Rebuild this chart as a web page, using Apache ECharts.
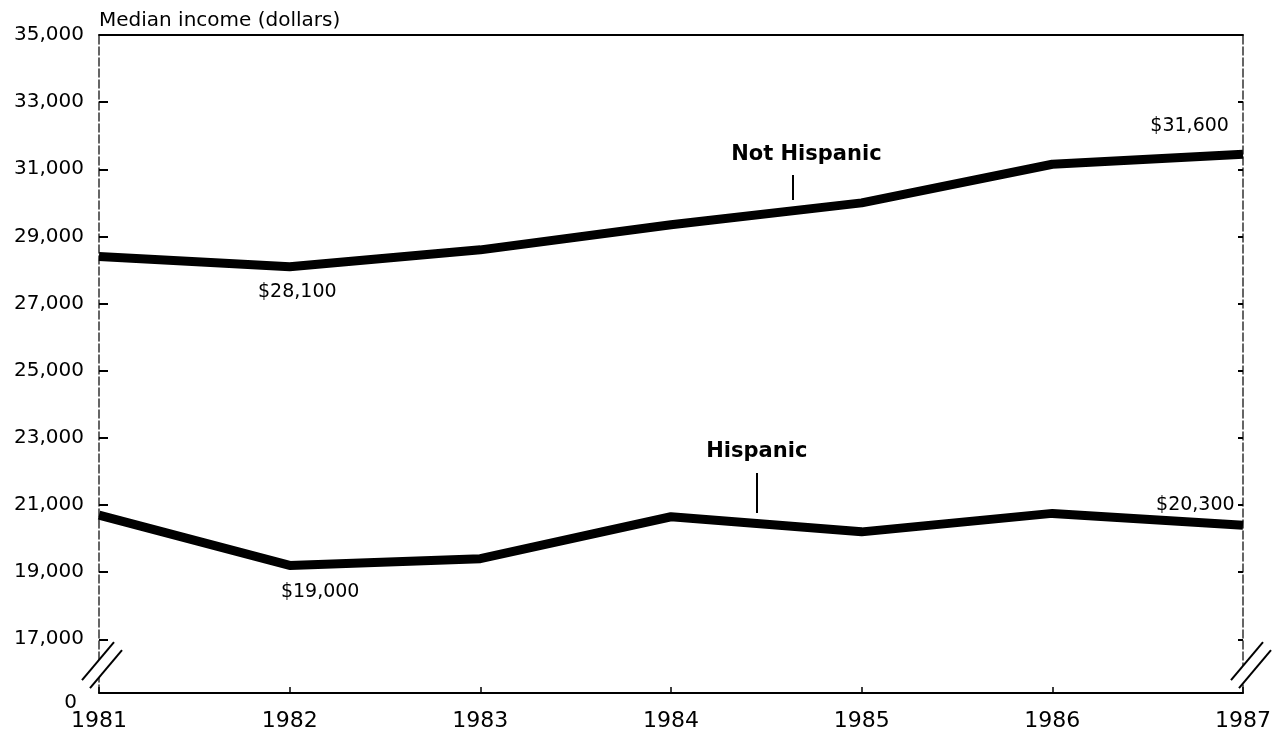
<!DOCTYPE html>
<html>
<head>
<meta charset="utf-8">
<script src="https://cdn.jsdelivr.net/npm/echarts@6.0.0/dist/echarts.min.js"></script>
<style>
  html, body { margin: 0; padding: 0; background: #fff; }
  #chart { width: 1283px; height: 738px; }
</style>
</head>
<body>
<div id="chart"></div>
<script>
// median income, dollars
var years = [1981, 1982, 1983, 1984, 1985, 1986, 1987];
var notHispanic = [28400, 28100, 28600, 29350, 30000, 31150, 31450];
var hispanic = [20700, 19200, 19400, 20650, 20200, 20750, 20400];
var yTicks = [17000, 19000, 21000, 23000, 25000, 27000, 29000, 31000, 33000, 35000];
var yBottom = 15400;   // axis is broken, this spot is labelled "0"

// callouts: text, year, value where the text is centred
var noteText = ['$28,100', '$19,000', '$31,600', '$20,300', 'Not Hispanic', 'Hispanic'];
var noteYear = [1982.04, 1982.16, 1986.72, 1986.75, 1984.71, 1984.45];
var noteValue = [27344, 18408, 32289, 21000, 31425, 22578];
// leader lines under the series names
var leaderYear = [1984.64, 1984.45];
var leaderFrom = [30830, 21953];
var leaderTo = [30085, 20761];

var FONT = 'DejaVu Sans';
var myChart = null;

function fmt(v) {
	var s = String(v);
	return s.length > 3 ? s.slice(0, s.length - 3) + ',' + s.slice(s.length - 3) : s;
}

function pairs(vals) {
	var out = [];
	for (var i = 0; i < years.length; i++) out.push([years[i], vals[i]]);
	return out;
}

function cal_option() {
	var notes = [];
	for (var i = 0; i < noteText.length; i++) {
		var bold = i >= 4;
		notes.push({
			name: noteText[i],
			coord: [noteYear[i], noteValue[i]],
			label: { fontWeight: bold ? 'bold' : 'normal', fontSize: bold ? 21 : 19 }
		});
	}
	var leaders = [];
	for (var j = 0; j < leaderYear.length; j++) {
		leaders.push([{ coord: [leaderYear[j], leaderFrom[j]] }, { coord: [leaderYear[j], leaderTo[j]] }]);
	}
	var labelVals = [yBottom].concat(yTicks);

	var option = {
		animation: false,
		backgroundColor: '#fff',
		textStyle: { fontFamily: FONT, color: '#000' },
		grid: { left: 99, right: 40, top: 35, bottom: 45 },
		xAxis: [
			{
				type: 'value', min: 1981, max: 1987, interval: 1, position: 'bottom',
				axisLine: { show: true, lineStyle: { color: '#000', width: 2 } },
				axisTick: { show: true, inside: true, length: 6, lineStyle: { color: '#000', width: 1.5 } },
				axisLabel: { fontFamily: FONT, fontSize: 22, color: '#000', margin: 17, formatter: function (v) { return String(v); } },
				splitLine: { show: false }
			},
			{
				type: 'value', min: 1981, max: 1987, position: 'top',
				axisLine: { show: true, lineStyle: { color: '#000', width: 2 } },
				axisTick: { show: false }, axisLabel: { show: false }, splitLine: { show: false }
			}
		],
		yAxis: [
			{
				type: 'value', min: yBottom, max: 35000, position: 'left',
				name: 'Median income (dollars)', nameLocation: 'end', nameGap: 4,
				nameTextStyle: { fontFamily: FONT, fontSize: 20, color: '#000', align: 'left', verticalAlign: 'bottom' },
				axisLine: { show: true, lineStyle: { color: '#333', width: 1.5, type: [8, 3] } },
				axisTick: { show: true, inside: true, length: 9, customValues: yTicks, lineStyle: { color: '#000', width: 2 } },
				axisLabel: {
					fontFamily: FONT, fontSize: 20, color: '#000', margin: 15, customValues: labelVals,
					formatter: function (v) { return v === yBottom ? '{z|0}' : fmt(v); },
					rich: { z: { fontFamily: FONT, fontSize: 20, color: '#000', padding: [20, 7, 0, 0] } }
				},
				splitLine: { show: false }
			},
			{
				type: 'value', min: yBottom, max: 35000, position: 'right',
				axisLine: { show: true, lineStyle: { color: '#333', width: 1.5, type: [8, 3] } },
				axisTick: { show: true, inside: true, length: 5, customValues: yTicks, lineStyle: { color: '#000', width: 2 } },
				axisLabel: { show: false }, splitLine: { show: false }
			}
		],
		series: [
			{
				name: 'Not Hispanic', type: 'line', data: pairs(notHispanic),
				symbol: 'none', lineStyle: { color: '#000', width: 9 },
				markPoint: {
					symbol: 'rect', symbolSize: 1, itemStyle: { color: 'rgba(0,0,0,0)' },
					label: { show: true, position: 'inside', formatter: '{b}', color: '#000', fontFamily: FONT },
					data: notes
				},
				markLine: {
					silent: true, symbol: 'none', label: { show: false },
					lineStyle: { color: '#000', width: 2, type: 'solid' },
					data: leaders
				}
			},
			{
				name: 'Hispanic', type: 'line', data: pairs(hispanic),
				symbol: 'none', lineStyle: { color: '#000', width: 9 }
			}
		]
	};
	return option;
}

function break_marks() {
	// two slashes across each side axis between 17,000 and the baseline
	var g = [];
	var xs = [1981, 1987];
	var dx = [3, 8];
	for (var i = 0; i < xs.length; i++) {
		var top = myChart.convertToPixel({ gridIndex: 0 }, [xs[i], 17000]);
		var bot = myChart.convertToPixel({ gridIndex: 0 }, [xs[i], yBottom]);
		var cx = top[0] + dx[i], cy = (top[1] + bot[1]) / 2 - 1;
		var hx = 16, hy = 19, off = 4;
		g.push({
			type: 'polygon', z: 100,
			shape: { points: [[cx - hx - off, cy + hy - off], [cx + hx - off, cy - hy - off], [cx + hx + off, cy - hy + off], [cx - hx + off, cy + hy + off]] },
			style: { fill: '#fff' }
		});
		g.push({ type: 'line', z: 101, shape: { x1: cx - hx - off, y1: cy + hy - off, x2: cx + hx - off, y2: cy - hy - off }, style: { stroke: '#000', lineWidth: 2 } });
		g.push({ type: 'line', z: 101, shape: { x1: cx - hx + off, y1: cy + hy + off, x2: cx + hx + off, y2: cy - hy + off }, style: { stroke: '#000', lineWidth: 2 } });
	}
	myChart.setOption({ graphic: g });
}

function draw_charts() {
	myChart = echarts.init(document.getElementById('chart'));
	myChart.setOption(cal_option());
	break_marks();
}

draw_charts();
</script>
</body>
</html>
